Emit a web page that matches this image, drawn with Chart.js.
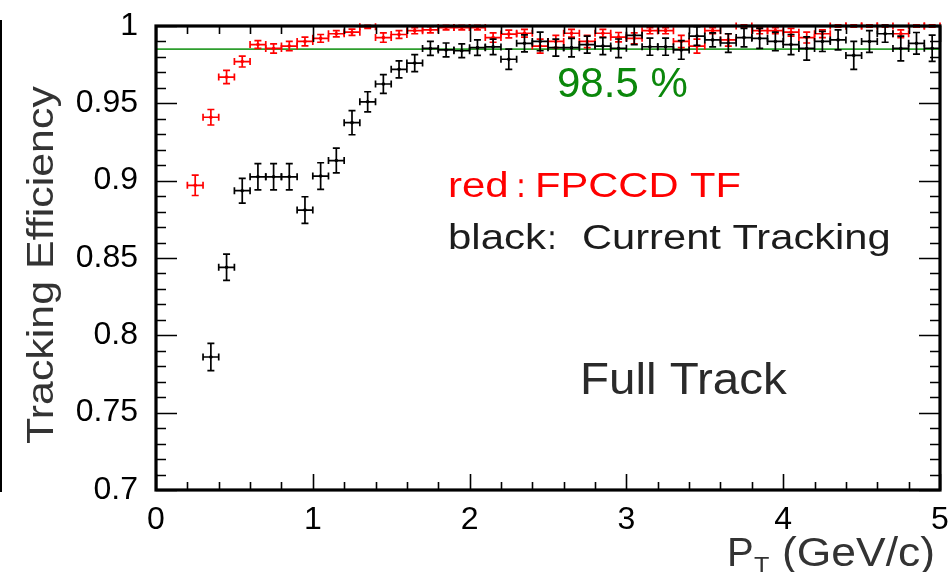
<!DOCTYPE html>
<html>
<head>
<meta charset="utf-8">
<script src="https://cdn.jsdelivr.net/npm/chart.js@4.4.1/dist/chart.umd.min.js"></script>
<style>
  html, body { margin: 0; padding: 0; background: #fff; }
  #wrap { width: 951px; height: 572px; }
</style>
</head>
<body>
<div id="wrap"><canvas id="c" width="951" height="572"></canvas></div>
<script>
// Bin centres in pT (GeV/c), bin width 0.1
const fpccdPt = [0.25,0.35,0.45,0.55,0.65,0.75,0.85,0.95,1.05,1.15,1.25,1.35,1.45,1.55,1.65,1.75,1.85,1.95,
  2.05,2.15,2.25,2.35,2.45,2.55,2.65,2.75,2.85,2.95,3.05,3.15,3.25,3.35,3.45,3.55,3.65,3.75,3.85,3.95,
  4.05,4.15,4.25,4.35,4.45,4.55,4.65,4.75,4.85,4.95];
const fpccdEff = [0.897,0.941,0.967,0.977,0.988,0.9855,0.987,0.990,0.992,0.995,0.996,0.9995,0.9925,0.9945,0.997,0.9975,0.999,0.999,
  0.999,0.9925,0.9948,0.9953,0.987,0.990,0.9953,0.990,0.9953,0.9928,0.992,0.997,0.997,0.990,0.987,0.997,0.991,1.000,0.997,0.997,
  0.996,0.9925,0.995,1.000,1.000,1.000,1.000,0.995,1.000,1.000];
const fpccdErr = [0.0066,0.005,0.0043,0.0035,0.0025,0.003,0.003,0.0028,0.0025,0.002,0.002,0.001,0.003,0.0025,0.002,0.002,0.0015,0.0015,
  0.0015,0.003,0.0025,0.0025,0.0045,0.004,0.0025,0.004,0.0025,0.003,0.0035,0.002,0.002,0.004,0.0045,0.002,0.004,0.0008,0.002,0.002,
  0.0025,0.0035,0.0025,0.0008,0.0008,0.0008,0.0008,0.0025,0.0008,0.0008];

const currentPt = [0.35,0.45,0.55,0.65,0.75,0.85,0.95,1.05,1.15,1.25,1.35,1.45,1.55,1.65,1.75,1.85,1.95,
  2.05,2.15,2.25,2.35,2.45,2.55,2.65,2.75,2.85,2.95,3.05,3.15,3.25,3.35,3.45,3.55,3.65,3.75,3.85,3.95,
  4.05,4.15,4.25,4.35,4.45,4.55,4.65,4.75,4.85,4.95];
const currentEff = [0.786,0.844,0.8935,0.9025,0.9025,0.9025,0.881,0.903,0.913,0.9375,0.951,0.9625,0.972,0.976,0.9855,0.9845,0.984,
  0.986,0.9865,0.9785,0.9888,0.990,0.986,0.986,0.988,0.987,0.9856,0.994,0.9866,0.9866,0.9845,0.9935,0.991,0.989,0.9925,0.992,0.990,
  0.988,0.9855,0.990,0.991,0.981,0.990,0.995,0.9855,0.9888,0.9856];
const currentErr = [0.0088,0.0085,0.008,0.0085,0.0085,0.0085,0.0086,0.0086,0.008,0.0078,0.0065,0.006,0.0055,0.0055,0.0045,0.0045,0.0045,
  0.005,0.005,0.0065,0.0055,0.006,0.0055,0.006,0.0055,0.0055,0.006,0.006,0.0055,0.0055,0.006,0.006,0.0045,0.006,0.006,0.0065,0.006,
  0.0065,0.0075,0.0065,0.0065,0.009,0.007,0.0055,0.008,0.007,0.0085];

const binHalfWidth = 0.05;
const referenceLevel = 0.985;
const xTickValues = [0, 1, 2, 3, 4, 5];
const yTickValues = [0.7, 0.75, 0.8, 0.85, 0.9, 0.95, 1];

const FONT = "'Liberation Sans', Arial, Helvetica, sans-serif";
Chart.defaults.font.family = FONT;

const toPoints = (xs, ys) => xs.map((v, i) => ({ x: v, y: ys[i] }));

// text drawn with a horizontal stretch (wide presentation font look)
function wideText(ctx, text, x, y, size, color, sx, align) {
  ctx.save();
  ctx.font = `${size}px ${FONT}`;
  ctx.fillStyle = color;
  ctx.textAlign = align || 'left';
  ctx.textBaseline = 'alphabetic';
  ctx.translate(x, y);
  ctx.scale(sx, 1);
  ctx.fillText(text, 0, 0);
  ctx.restore();
}

// Error bars (horizontal = bin width, vertical = efficiency error), frame, inner ticks and labels
const rootStyle = {
  id: 'rootStyle',
  afterDatasetsDraw(chart) {
    const { ctx, scales: { x, y } } = chart;
    ctx.save();
    chart.data.datasets.forEach(ds => {
      if (!ds.errY) return;
      ctx.strokeStyle = ds.borderColor;
      ctx.lineWidth = 1.7;
      ds.data.forEach((p, k) => {
        const px = x.getPixelForValue(p.x), py = y.getPixelForValue(p.y);
        const xl = x.getPixelForValue(p.x - binHalfWidth), xr = x.getPixelForValue(p.x + binHalfWidth);
        const yt = y.getPixelForValue(p.y + ds.errY[k]), yb = y.getPixelForValue(p.y - ds.errY[k]);
        const c = 3.5;
        ctx.beginPath();
        ctx.moveTo(xl, py); ctx.lineTo(xr, py);
        ctx.moveTo(px, yt); ctx.lineTo(px, yb);
        ctx.moveTo(px - c, yt); ctx.lineTo(px + c, yt);
        ctx.moveTo(px - c, yb); ctx.lineTo(px + c, yb);
        ctx.moveTo(xl, py - c); ctx.lineTo(xl, py + c);
        ctx.moveTo(xr, py - c); ctx.lineTo(xr, py + c);
        ctx.stroke();
      });
    });
    ctx.restore();
  },
  afterDraw(chart) {
    const { ctx, chartArea: a, scales: { x, y } } = chart;
    ctx.save();
    ctx.strokeStyle = '#000';

    // tick marks on all four sides, pointing inwards
    ctx.lineWidth = 1.6;
    ctx.beginPath();
    for (let i = 0; i <= 30; i++) {
      const v = 0.7 + i * 0.01;
      const py = Math.round(y.getPixelForValue(v)) + 0.5;
      const len = i % 5 === 0 ? 21 : 10;
      ctx.moveTo(a.left, py); ctx.lineTo(a.left + len, py);
      ctx.moveTo(a.right, py); ctx.lineTo(a.right - len, py);
    }
    for (let i = 0; i <= 25; i++) {
      const v = i * 0.2;
      const px = Math.round(x.getPixelForValue(v)) + 0.5;
      const len = i % 5 === 0 ? 16 : 8;
      ctx.moveTo(px, a.bottom); ctx.lineTo(px, a.bottom - len);
      ctx.moveTo(px, a.top); ctx.lineTo(px, a.top + len);
    }
    ctx.stroke();

    // frame
    ctx.lineWidth = 3.2;
    ctx.strokeRect(a.left, a.top, a.right - a.left, a.bottom - a.top);

    // edge rule at the far left
    ctx.lineWidth = 2;
    ctx.beginPath();
    ctx.moveTo(1, 20); ctx.lineTo(1, 492);
    ctx.stroke();

    // annotations
    wideText(ctx, '98.5 %', 557, 97, 42, '#0b870b', 1.0);

    wideText(ctx, 'red', 448, 197, 35, '#ff0000', 1.2);
    wideText(ctx, '：', 507, 197, 35, '#ff0000', 0.8);
    wideText(ctx, 'FPCCD TF', 535, 197, 35, '#ff0000', 1.19);

    wideText(ctx, 'black', 448, 249, 35, '#1c1c1c', 1.2);
    wideText(ctx, '：', 538, 249, 35, '#1c1c1c', 0.8);
    wideText(ctx, 'Current Tracking', 582, 249, 35, '#1c1c1c', 1.19);

    wideText(ctx, 'Full Track', 580, 394, 44, '#2a2a2a', 1.08);

    // axis titles
    wideText(ctx, 'P', 727, 566, 40, '#333', 1.0);
    wideText(ctx, 'T', 754, 574, 24, '#333', 1.05);
    wideText(ctx, '(GeV/c)', 935, 566, 40, '#333', 1.11, 'right');

    ctx.save();
    ctx.translate(53, 265);
    ctx.rotate(-Math.PI / 2);
    wideText(ctx, 'Tracking Efficiency', 0, 0, 37, '#333', 1.16, 'center');
    ctx.restore();

    ctx.restore();
  }
};

new Chart(document.getElementById('c'), {
  type: 'scatter',
  data: {
    datasets: [
      {
        label: 'FPCCD TF',
        data: toPoints(fpccdPt, fpccdEff),
        errY: fpccdErr,
        borderColor: '#ff0000',
        backgroundColor: '#ff0000',
        pointRadius: 1.8,
        pointBorderWidth: 0,
        order: 1
      },
      {
        label: 'Current Tracking',
        data: toPoints(currentPt, currentEff),
        errY: currentErr,
        borderColor: '#000000',
        backgroundColor: '#000000',
        pointRadius: 1.8,
        pointBorderWidth: 0,
        order: 2
      },
      {
        type: 'line',
        label: '98.5 %',
        data: [{ x: 0, y: referenceLevel }, { x: 5, y: referenceLevel }],
        borderColor: '#2e9e2e',
        borderWidth: 1.8,
        pointRadius: 0,
        showLine: true,
        order: 3
      }
    ]
  },
  options: {
    responsive: false,
    animation: false,
    events: [],
    layout: { padding: { top: 26, right: 11, left: 0, bottom: 0 } },
    plugins: { legend: { display: false }, tooltip: { enabled: false } },
    scales: {
      x: {
        type: 'linear',
        min: 0, max: 5,
        afterBuildTicks: s => { s.ticks = xTickValues.map(v => ({ value: v })); },
        afterFit: s => { s.height = 82; s.paddingLeft = 0; s.paddingRight = 0; },
        ticks: { color: '#000', font: { size: 32 }, padding: 11, callback: v => String(v), maxRotation: 0, autoSkip: false },
        grid: { display: false, drawTicks: false },
        border: { display: false }
      },
      y: {
        type: 'linear',
        min: 0.7, max: 1,
        afterBuildTicks: s => { s.ticks = yTickValues.map(v => ({ value: v })); },
        afterFit: s => { s.width = 156; s.paddingTop = 0; s.paddingBottom = 0; },
        ticks: { color: '#000', font: { size: 32 }, padding: 18, callback: v => String(v), autoSkip: false },
        grid: { display: false, drawTicks: false },
        border: { display: false }
      }
    }
  },
  plugins: [rootStyle]
});
</script>
</body>
</html>
